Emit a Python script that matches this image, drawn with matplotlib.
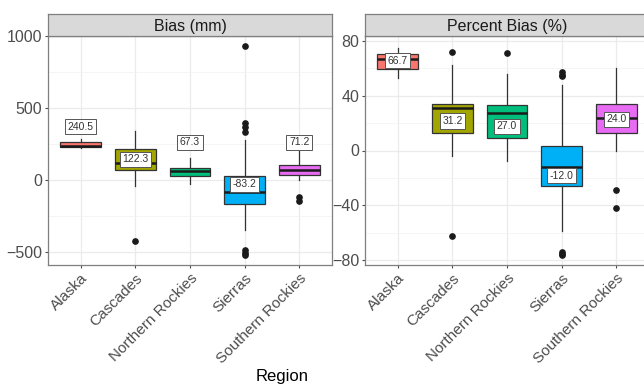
import matplotlib.pyplot as plt
from matplotlib.transforms import ScaledTranslation

plt.rcParams['font.family'] = ['Liberation Sans', 'DejaVu Sans']

regions = ["Alaska", "Cascades", "Northern Rockies", "Sierras", "Southern Rockies"]
colors = ["#F8766D", "#A3A500", "#00BF7D", "#00B0F6", "#E76BF3"]

# Bias (mm) box statistics
bias_q1 = [229, 69, 28, -169, 35]
bias_med = [240.5, 122.3, 67.3, -83.2, 71.2]
bias_q3 = [264, 220, 88, 30, 109]
bias_lo = [222, -39, -28, -345, 0]
bias_hi = [285, 343, 155, 278, 204]
bias_out = [[], [-421], [], [930, 400, 370, 333, -484, -507, -523], [-116, -146]]
bias_label_y = [373, 146, 264, -28, 264]

# Percent bias (%) box statistics
pb_q1 = [59.5, 13, 9.2, -26, 12.8]
pb_med = [66.7, 31.2, 27.0, -12.0, 24.0]
pb_q3 = [70.6, 34.2, 33, 3.6, 34]
pb_lo = [53, -4.3, -7.7, -59, 0]
pb_hi = [75, 62, 56, 47.5, 60.5]
pb_out = [[], [71.8, -62.6], [71], [57, 55.4, 54.5, -74, -75.4, -76.4], [-29, -41.7]]
pb_label_y = [65.6, 21.5, 17.6, -18.3, 22.7]

W, H = 644, 386
fig = plt.figure(figsize=(W / 100, H / 100), dpi=100)


def px(x0, y_top, w, h):
    return [x0 / W, (H - y_top - h) / H, w / W, h / H]


def panel(x0, title, q1, med, q3, lo, hi, out, lab_y, ylim, major, minor, fmt):
    ax = fig.add_axes(px(x0, 36, 284, 229))
    strip = fig.add_axes(px(x0, 14, 284, 22))
    strip.set_xticks([])
    strip.set_yticks([])
    strip.set_facecolor("#D9D9D9")
    for s in strip.spines.values():
        s.set_color("#7F7F7F")
        s.set_linewidth(0.9)
    strip.text(0.5, 0.45, title, ha="center", va="center", fontsize=11.5,
               color="#1A1A1A", transform=strip.transAxes)

    stats = []
    for i in range(len(regions)):
        stats.append(dict(med=med[i], q1=q1[i], q3=q3[i], whislo=lo[i],
                          whishi=hi[i], fliers=out[i], label=regions[i]))
    pos = list(range(1, len(regions) + 1))
    bp = ax.bxp(stats, positions=pos, widths=0.75, patch_artist=True,
                showcaps=False,
                boxprops=dict(edgecolor="#333333", linewidth=0.9),
                medianprops=dict(color="#1A1A1A", linewidth=1.8),
                whiskerprops=dict(color="#333333", linewidth=0.9),
                flierprops=dict(marker="o", markerfacecolor="#1A1A1A",
                                markeredgecolor="#1A1A1A", markersize=3.8),
                zorder=3)
    for patch, c in zip(bp["boxes"], colors):
        patch.set_facecolor(c)

    for i in range(len(regions)):
        ax.text(pos[i], lab_y[i], fmt.format(med[i]), ha="center", va="center",
                fontsize=7.5, color="#333333", zorder=5,
                bbox=dict(boxstyle="square,pad=0.25", fc="white",
                          ec="#555555", lw=0.7))

    ax.set_xlim(0.4, 5.6)
    ax.set_ylim(*ylim)
    ax.set_yticks(major)
    ax.set_yticks(minor, minor=True)
    ax.set_xticks(pos)
    ax.set_xticklabels(regions, rotation=45, ha="right",
                       rotation_mode="anchor", fontsize=11, color="#4D4D4D")
    shift = ScaledTranslation(5 / 100, -1 / 100, fig.dpi_scale_trans)
    for lab in ax.get_xticklabels():
        lab.set_transform(lab.get_transform() + shift)
    ax.tick_params(axis="y", which="major", labelsize=11.5, labelcolor="#4D4D4D",
                   color="#4D4D4D", length=2.5, width=0.8, pad=1.5)
    ax.tick_params(axis="y", which="minor", length=0)
    ax.tick_params(axis="x", color="#4D4D4D", length=2.5, width=0.8, pad=2)
    ax.grid(True, which="major", color="#EBEBEB", linewidth=0.9, zorder=0)
    ax.grid(True, which="minor", axis="y", color="#F2F2F2", linewidth=0.5,
            zorder=0)
    ax.set_axisbelow(True)
    for s in ax.spines.values():
        s.set_color("#7F7F7F")
        s.set_linewidth(0.9)
    return ax


panel(48, "Bias (mm)", bias_q1, bias_med, bias_q3, bias_lo, bias_hi, bias_out,
      bias_label_y, (-590, 1003), [-500, 0, 500, 1000], [-250, 250, 750],
      "{:.1f}")
panel(365, "Percent Bias (%)", pb_q1, pb_med, pb_q3, pb_lo, pb_hi, pb_out,
      pb_label_y, (-83.5, 83.5), [-80, -40, 0, 40, 80], [-60, -20, 20, 60],
      "{:.1f}")

fig.text(282 / W, 1 - 376 / H, "Region", ha="center", va="center",
         fontsize=12, color="black")

fig.savefig("out.png", dpi=100)
